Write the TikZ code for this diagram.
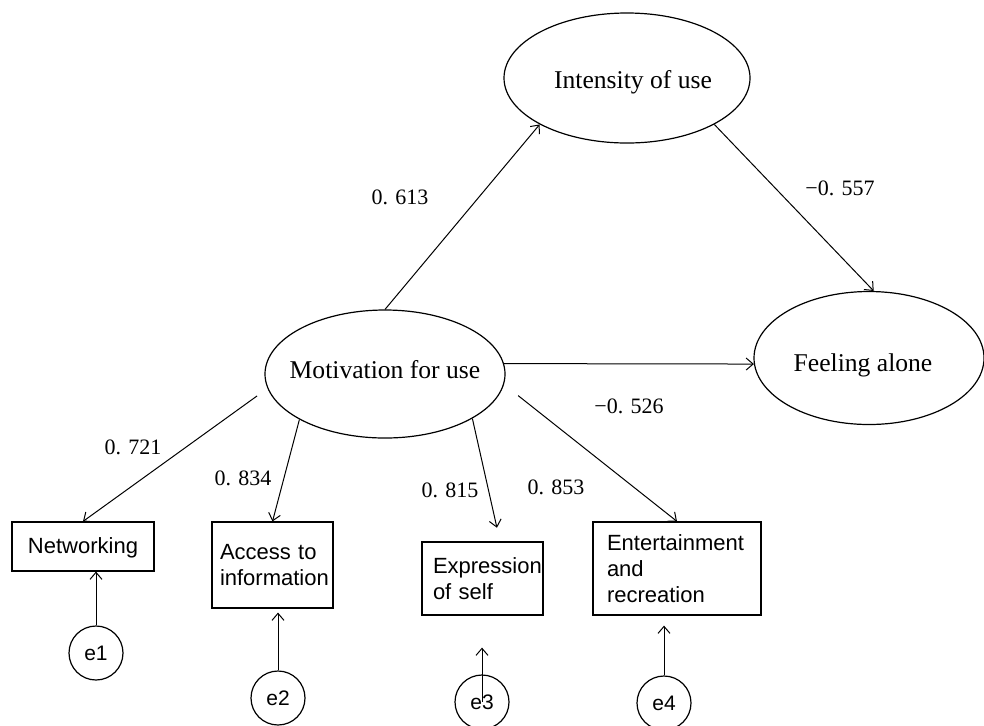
\documentclass[tikz,border=0pt]{standalone}
\usepackage{fontspec}
\setmainfont{Liberation Serif}
\setsansfont{Liberation Sans}
\usetikzlibrary{shapes.geometric,arrows.meta}

\begin{document}
\begin{tikzpicture}[x=0.5pt,y=-0.5pt,
    latent/.style={ellipse,draw,line width=0.6pt,inner sep=0pt},
    latenttext/.style={font=\fontsize{12.8}{15}\selectfont},
    obs/.style={rectangle,draw,line width=0.6pt,inner sep=0pt,
                font=\sffamily\fontsize{11}{13}\selectfont},
    err/.style={circle,draw,line width=0.6pt,minimum size=27pt,inner sep=0pt,
                font=\sffamily\fontsize{10.5}{12}\selectfont},
    link/.style={-{Straight Barb[length=3.5pt,width=6pt]},line width=0.5pt}]
  \useasboundingbox (0,0) rectangle (984,725);
  \node[latent,minimum width=123pt,minimum height=65pt,
        label={[latenttext,xshift=3pt,yshift=-2pt]center:Intensity of use}]     (int) at (627,78) {};
  \node[latent,minimum width=120pt,minimum height=64pt,
        label={[latenttext,yshift=2pt]center:Motivation for use}]               (mot) at (385,374) {};
  \node[latent,minimum width=115pt,minimum height=66.5pt,
        label={[latenttext,xshift=-3pt,yshift=-3.5pt]center:Feeling alone}]     (fee) at (869,358) {};
  \node[obs,minimum width=71pt,minimum height=24.5pt,text depth=1pt]         (net) at (83,546.5) {Networking};
  \node[obs,text width=52.5pt,inner xsep=4pt,minimum height=43pt,align=left]   (acc) at (272.5,565) {Access to\\information};
  \node[obs,text width=49.5pt,inner xsep=5.5pt,minimum height=36.5pt,align=left] (exp) at (482.5,578.5) {Expression\\of self};
  \node[obs,text width=70pt,inner xsep=7pt,minimum height=46.5pt,align=left]   (ent) at (677,568.5) {Entertainment\\and\\recreation};
  \node[err] (e1) at (96,653) {e1};
  \node[err] (e2) at (278,698) {e2};
  \node[err] (e3) at (482,702) {e3};
  \node[err] (e4) at (664,703) {e4};
  % path coefficients
  \begin{scope}[every node/.style={font=\fontsize{11}{13}\selectfont,inner sep=0pt}]
     \node (c1) at (400,197) {0. 613};
     \node (c2) at (840,188) {−0. 557};
     \node (c3) at (629,406) {−0. 526};
     \node (c4) at (133,447) {0. 721};
     \node (c5) at (243,478) {0. 834};
     \node (c6) at (450,490) {0. 815};
     \node (c7) at (556,487) {0. 853};
  \end{scope}
  \draw[link] (mot.north) -- (int.208);
  \draw[link] (int.332)   -- (fee.86);
  \draw[link] (mot.5)     -- (fee.183);
  \draw[link,shorten <=6.4pt] (mot.187.6) -- (net.north);
  \draw[link] (mot.208)   -- (acc.north);
  \draw[link,shorten >=7pt] (mot.333) -- ([xshift=8.75pt]exp.north);
  \draw[link,shorten <=9pt] (mot.355) -- (ent.north);
  \draw[link] (e1.north) -- (e1.north |- net.south);
  \draw[link,shorten >=2pt] (e2.north) -- (e2.north |- acc.south);
  \draw[link,shorten >=16pt] (e3.center) -- (e3.center |- exp.south);
  \draw[link,shorten >=5pt] (e4.north) -- (e4.north |- ent.south);
\end{tikzpicture}
\end{document}
